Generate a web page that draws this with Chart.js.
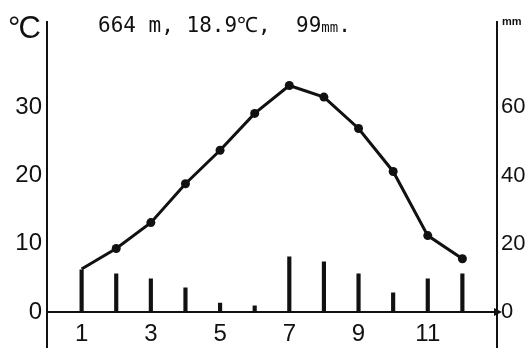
<!DOCTYPE html>
<html>
<head>
<meta charset="utf-8">
<script src="https://cdn.jsdelivr.net/npm/chart.js"></script>
<style>
  body { margin: 0; background: #fff; }
  #wrap { position: relative; width: 527px; height: 352px; overflow: hidden; }
  .lbl { position: absolute; color: #111; white-space: nowrap; line-height: 1; }
  #unitC { left: 8px; top: 10px; font: 31px "Liberation Sans", sans-serif; letter-spacing: -2px; }
  #title { left: 98px; top: 10px; font: 21px "DejaVu Sans Mono", monospace; }
  #title small { font-size: 14px; }
  #unitMm { left: 502px; top: 15px; font: bold 11px "Liberation Sans", sans-serif; }
</style>
</head>
<body>
<div id="wrap">
  <canvas id="chart" width="527" height="352"></canvas>
  <div class="lbl" id="unitC">°C</div>
  <div class="lbl" id="title">664 m, 18.9℃, &nbsp;99<small>mm</small>.</div>
  <div class="lbl" id="unitMm">mm</div>
</div>
<script>
// monthly values
const months = [1, 2, 3, 4, 5, 6, 7, 8, 9, 10, 11, 12];
const temperature = [6.3, 9.3, 13.1, 18.8, 23.7, 29.1, 33.2, 31.5, 26.9, 20.6, 11.2, 7.8];
const precipitation = [12.4, 11.2, 9.7, 7.1, 2.6, 1.8, 16.2, 14.7, 11.2, 5.6, 9.7, 11.2];

// tick labels
const monthTicks = [1, 3, 5, 7, 9, 11];
const tempTicks = [0, 10, 20, 30];
const precipTicks = [0, 20, 40, 60];

const tickFont = { family: "'Liberation Sans', sans-serif", size: 24 };
const rightFont = { family: "'Liberation Sans', sans-serif", size: 22 };

// drop the label padding chart.js adds, so the plot fills the canvas
function noPadding(s) {
  s.paddingTop = 0;
  s.paddingBottom = 0;
  s.paddingLeft = 0;
  s.paddingRight = 0;
}

// small arrow at the right end of the x axis
const axisArrow = {
  id: "axisArrow",
  afterDraw(chart) {
    const ctx = chart.ctx;
    const xEnd = chart.scales.x.right;
    const y0 = chart.scales.y.getPixelForValue(0);
    ctx.save();
    ctx.fillStyle = "#111";
    ctx.beginPath();
    ctx.moveTo(xEnd + 5, y0);
    ctx.lineTo(xEnd - 3, y0 - 4);
    ctx.lineTo(xEnd - 3, y0 + 4);
    ctx.closePath();
    ctx.fill();
    ctx.restore();
  },
};

const ctx = document.getElementById("chart").getContext("2d");

const data = {
  datasets: [
    {
      type: "line",
      label: "Temperature",
      data: months.map((m, i) => ({ x: m, y: temperature[i] })),
      yAxisID: "y",
      borderColor: "#111",
      borderWidth: 3,
      tension: 0,
      pointRadius: months.map((m, i) => (i === 0 ? 0 : 4.5)),
      pointBackgroundColor: "#111",
      pointBorderWidth: 0,
      order: 1,
    },
    {
      type: "bar",
      label: "Precipitation",
      data: months.map((m, i) => ({ x: m, y: precipitation[i] })),
      yAxisID: "y2",
      backgroundColor: "#111",
      barThickness: 3.5,
      order: 2,
    },
  ],
};

const config = {
  type: "bar",
  data: data,
  options: {
    responsive: false,
    animation: false,
    layout: { padding: { top: 22, left: 0, right: 0, bottom: 0 } },
    plugins: { legend: { display: false }, tooltip: { enabled: false } },
    scales: {
      x: {
        type: "linear",
        min: 0,
        max: 13,
        offset: false,
        position: { y: 0 },
        grid: { display: false, drawTicks: false, offset: false },
        border: { display: true, color: "#111", width: 2 },
        ticks: { font: tickFont, color: "#111", padding: 8, maxRotation: 0 },
        afterBuildTicks: (s) => { s.ticks = monthTicks.map((v) => ({ value: v })); },
        afterFit: (s) => { s.height = 0; noPadding(s); },
      },
      y: {
        type: "linear",
        position: "left",
        min: -5.2,
        max: 42.5,
        grid: { display: false, drawTicks: false },
        border: { display: true, color: "#111", width: 2 },
        ticks: { font: tickFont, color: "#111", padding: 5 },
        afterBuildTicks: (s) => { s.ticks = tempTicks.map((v) => ({ value: v })); },
        afterFit: (s) => { s.width = 47; noPadding(s); },
      },
      y2: {
        type: "linear",
        position: "right",
        min: -10.4,
        max: 85,
        grid: { display: false, drawTicks: false },
        border: { display: true, color: "#111", width: 2 },
        ticks: { font: rightFont, color: "#111", padding: 4 },
        afterBuildTicks: (s) => { s.ticks = precipTicks.map((v) => ({ value: v })); },
        afterFit: (s) => { s.width = 30; noPadding(s); },
      },
    },
  },
  plugins: [axisArrow],
};

let chart = new Chart(ctx, config);
</script>
</body>
</html>
